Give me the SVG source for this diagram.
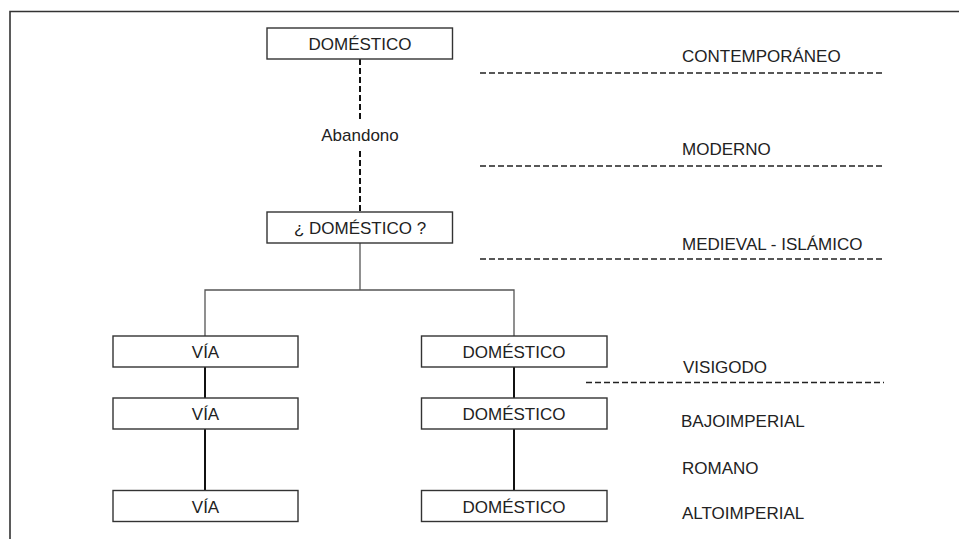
<svg xmlns="http://www.w3.org/2000/svg" width="959" height="539" viewBox="0 0 959 539">
<style>
.box{fill:#fff;stroke:#333;stroke-width:1.4}
.t{font-family:"Liberation Sans",Arial,sans-serif;font-size:17px;fill:#222}
.c{text-anchor:middle}
.period{stroke:#222;stroke-width:1.3;stroke-dasharray:6 3;fill:none}
.vdash{stroke:#111;stroke-width:2;stroke-dasharray:6 3;fill:none}
.thin{stroke:#555;stroke-width:1.3;fill:none}
.solid{stroke:#111;stroke-width:2;fill:none}
</style>
<rect width="959" height="539" fill="#fff"/>
<g id="frame"><path d="M10,539 V11.5 H959" fill="none" stroke="#333" stroke-width="1.6"/></g>
<g id="connectors">
<line class="vdash" x1="360" y1="59" x2="360" y2="119"/>
<line class="vdash" x1="360" y1="151" x2="360" y2="212"/>
<path class="thin" d="M360,243 V290 M205,336 V290 H514 V336"/>
<line class="solid" x1="205" y1="367" x2="205" y2="398"/>
<line class="solid" x1="205" y1="429" x2="205" y2="490"/>
<line class="solid" x1="514" y1="367" x2="514" y2="398"/>
<line class="solid" x1="514" y1="429" x2="514" y2="490"/>
</g>
<g id="periods">
<line class="period" x1="480" y1="73" x2="884" y2="73"/>
<line class="period" x1="480" y1="166" x2="884" y2="166"/>
<line class="period" x1="480" y1="259" x2="884" y2="259"/>
<line class="period" x1="586" y1="382.5" x2="884" y2="382.5"/>
<text class="t" x="682" y="62">CONTEMPORÁNEO</text>
<text class="t" x="682" y="155">MODERNO</text>
<text class="t" x="682" y="250">MEDIEVAL - ISLÁMICO</text>
<text class="t" x="683" y="373">VISIGODO</text>
<text class="t" x="681" y="427">BAJOIMPERIAL</text>
<text class="t" x="682" y="474">ROMANO</text>
<text class="t" x="682" y="519">ALTOIMPERIAL</text>
</g>
<g id="n-top"><rect class="box" x="267" y="28" width="185.5" height="31"/><text class="t c" x="360" y="50">DOMÉSTICO</text></g>
<g id="abandono"><text class="t c" x="360" y="141">Abandono</text></g>
<g id="n-q"><rect class="box" x="267" y="212" width="185.5" height="31"/><text class="t c" x="360" y="234">¿ DOMÉSTICO ?</text></g>
<g id="via1"><rect class="box" x="113" y="336" width="185" height="31"/><text class="t c" x="205.5" y="358">VÍA</text></g>
<g id="via2"><rect class="box" x="113" y="398" width="185" height="31"/><text class="t c" x="205.5" y="420">VÍA</text></g>
<g id="via3"><rect class="box" x="113" y="490.5" width="185" height="31"/><text class="t c" x="205.5" y="512.5">VÍA</text></g>
<g id="dom1"><rect class="box" x="421.5" y="336" width="185.5" height="31"/><text class="t c" x="514" y="358">DOMÉSTICO</text></g>
<g id="dom2"><rect class="box" x="421.5" y="398" width="185.5" height="31"/><text class="t c" x="514" y="420">DOMÉSTICO</text></g>
<g id="dom3"><rect class="box" x="421.5" y="490.5" width="185.5" height="31"/><text class="t c" x="514" y="512.5">DOMÉSTICO</text></g>
</svg>
